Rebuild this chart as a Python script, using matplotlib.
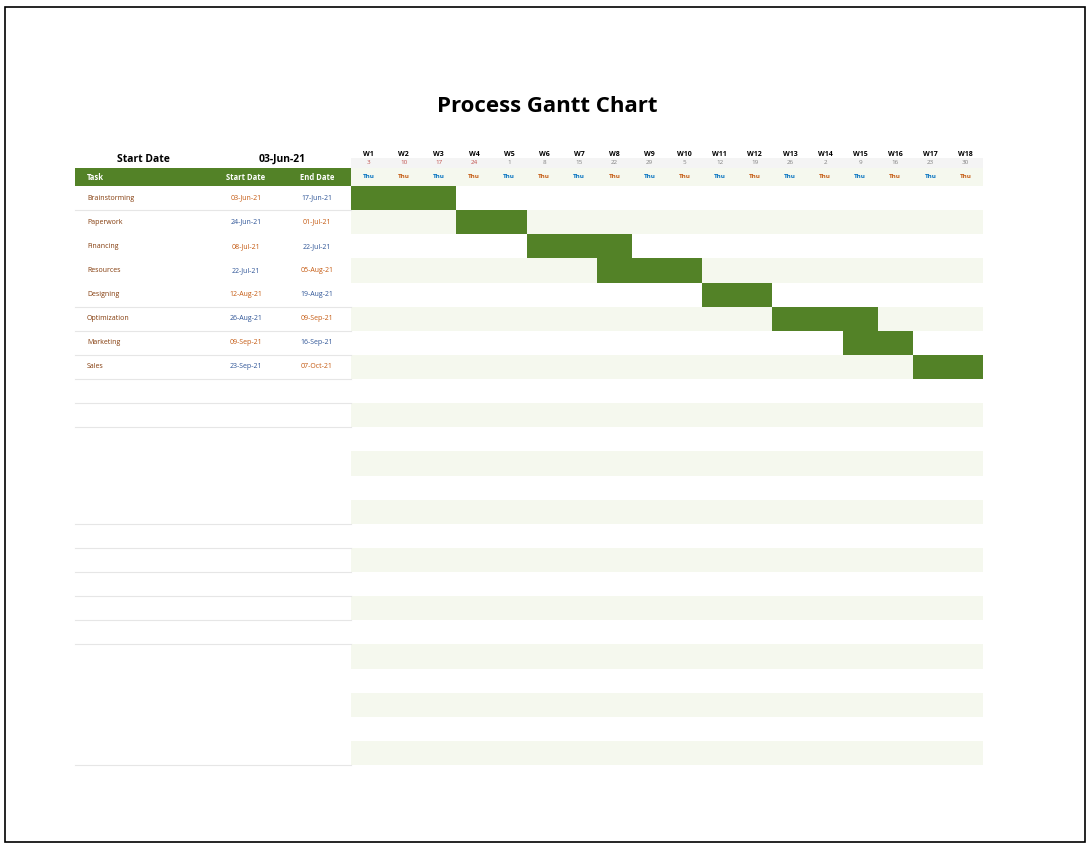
import matplotlib.pyplot as plt
from matplotlib.patches import Rectangle
from datetime import date

tasks = ["Brainstorming", "Paperwork", "Financing", "Resources", "Designing",
         "Optimization", "Marketing", "Sales"]
starts = [date(2021, 6, 3), date(2021, 6, 24), date(2021, 7, 8), date(2021, 7, 22),
          date(2021, 8, 12), date(2021, 8, 26), date(2021, 9, 9), date(2021, 9, 23)]
ends = [date(2021, 6, 17), date(2021, 7, 1), date(2021, 7, 22), date(2021, 8, 5),
        date(2021, 8, 19), date(2021, 9, 9), date(2021, 9, 16), date(2021, 10, 7)]
week_labels = ["W%d" % i for i in range(1, 19)]
week_days = [3, 10, 17, 24, 1, 8, 15, 22, 29, 5, 12, 19, 26, 2, 9, 16, 23, 30]
project_start = date(2021, 6, 3)

GREEN = "#538227"
LIGHT = "#F5F8EE"
plt.rcParams["font.family"] = "Open Sans"

fig = plt.figure(figsize=(10.92, 8.47), dpi=100)
ax = fig.add_axes([0, 0, 1, 1])
ax.set_xlim(0, 1092)
ax.set_ylim(847, 0)
ax.axis("off")

ax.add_patch(Rectangle((5, 7), 1080, 835, fill=False, lw=1.2, ec="black"))
ax.text(547, 107, "Process Gantt Chart", ha="center", va="center", fontsize=16, fontweight="bold")

# header
ax.text(143, 159, "Start Date", ha="center", va="center", fontsize=7.5, fontweight="bold")
ax.text(282, 159, project_start.strftime("%d-%b-%y"), ha="center", va="center", fontsize=7.5, fontweight="bold")
ax.add_patch(Rectangle((75, 168), 276, 18, color=GREEN, lw=0))
ax.text(87, 177, "Task", va="center", fontsize=5.5, color="white", fontweight="bold")
ax.text(246, 177, "Start Date", ha="center", va="center", fontsize=5.5, color="white", fontweight="bold")
ax.text(317, 177, "End Date", ha="center", va="center", fontsize=5.5, color="white", fontweight="bold")

x0, x1 = 351, 983
ww = (x1 - x0) / len(week_labels)
ax.add_patch(Rectangle((x0, 158), x1 - x0, 10, color="#F4F4F4", lw=0))
ax.add_patch(Rectangle((x0, 168), x1 - x0, 18, color=LIGHT, lw=0))
for i, (w, d) in enumerate(zip(week_labels, week_days)):
    cx = x0 + ww * (i + 0.5)
    ax.text(cx, 154, w, ha="center", va="center", fontsize=5, fontweight="bold")
    ax.text(cx, 163, str(d), ha="center", va="center", fontsize=4.5,
            color="#C0504D" if i < 4 else "#808080")
    ax.text(cx, 176, "Thu", ha="center", va="center", fontsize=4.5, fontweight="bold",
            color="#0070C0" if i % 2 == 0 else "#C55A11")

# rows
y0, rh, nrows = 186, 24.13, 24
for r in range(nrows):
    y = y0 + r * rh
    if r % 2 == 1:
        ax.add_patch(Rectangle((x0, y), x1 - x0, rh, color=LIGHT, lw=0))
for r in [0, 4, 5, 6, 7, 8, 9, 13, 14, 15, 16, 17, 18, 23]:
    y = y0 + (r + 1) * rh
    ax.plot([75, 351], [y, y], color="#E6E6E6", lw=0.8)

for r, (t, s, e) in enumerate(zip(tasks, starts, ends)):
    cy = y0 + (r + 0.5) * rh
    ax.text(87, cy, t, va="center", fontsize=5, color="#843C0C")
    ax.text(246, cy, s.strftime("%d-%b-%y"), ha="center", va="center", fontsize=5,
            color="#C55A11" if r % 2 == 0 else "#2F5597")
    ax.text(317, cy, e.strftime("%d-%b-%y"), ha="center", va="center", fontsize=5,
            color="#2F5597" if r % 2 == 0 else "#C55A11")
    k = (s - project_start).days / 7
    n = (e - s).days / 7 + 1
    bx = x0 + k * ww
    bw = min(n * ww, x1 - bx)
    ax.add_patch(Rectangle((bx, y0 + r * rh), bw, rh, color=GREEN, lw=0))

fig.savefig("out.png", dpi=100)
